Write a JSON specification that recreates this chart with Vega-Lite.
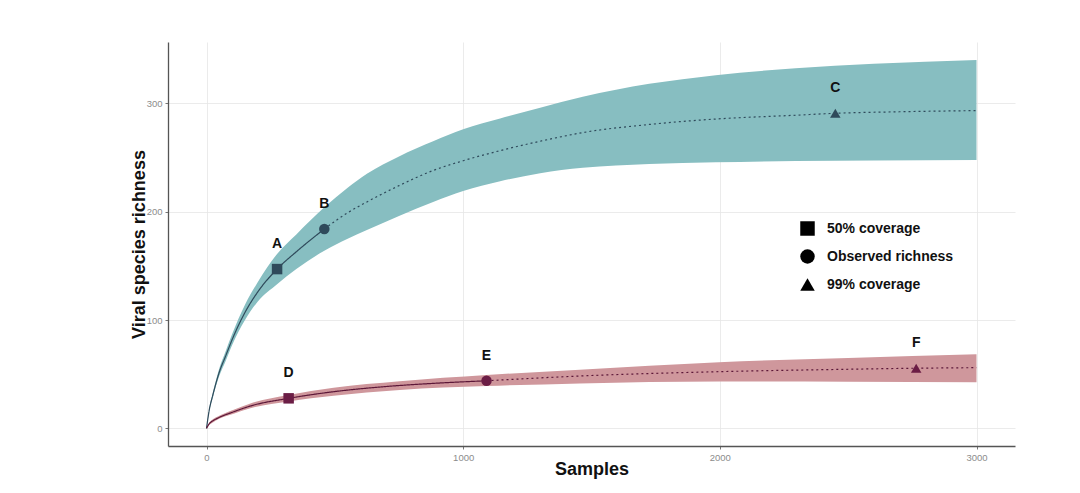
{
  "$schema": "https://vega.github.io/schema/vega-lite/v6.json",
  "width": 847,
  "height": 404,
  "autosize": {"type": "none"},
  "padding": {"left": 168, "top": 42, "right": 65, "bottom": 47},
  "background": "white",
  "config": {
    "view": {"stroke": null},
    "font": "Liberation Sans",
    "axis": {
      "domainColor": "#555555",
      "domainWidth": 1.3,
      "tickColor": "#777777",
      "tickSize": 3,
      "labelColor": "#8c8c8c",
      "labelFontSize": 9.5,
      "labelFont": "Liberation Sans",
      "titleFont": "Liberation Sans",
      "titleFontSize": 18,
      "titleFontWeight": "bold",
      "titleColor": "#111111",
      "gridColor": "#e6e6e6",
      "gridWidth": 0.8
    },
    "axisX": {"labelPadding": 3, "titlePadding": -1},
    "axisY": {"labelPadding": 3, "titlePadding": -2}
  },
  "datasets": {
    "band": [
      {"series": "S1", "x": 0, "lo": 0, "hi": 0},
      {"series": "S1", "x": 10, "lo": 15, "hi": 17},
      {"series": "S1", "x": 25, "lo": 29, "hi": 33},
      {"series": "S1", "x": 50, "lo": 48.5, "hi": 55.5},
      {"series": "S1", "x": 75, "lo": 62.5, "hi": 71.5},
      {"series": "S1", "x": 100, "lo": 77, "hi": 87},
      {"series": "S1", "x": 150, "lo": 100, "hi": 114},
      {"series": "S1", "x": 200, "lo": 117, "hi": 135},
      {"series": "S1", "x": 275, "lo": 133, "hi": 161},
      {"series": "S1", "x": 350, "lo": 147, "hi": 179},
      {"series": "S1", "x": 459, "lo": 164, "hi": 204},
      {"series": "S1", "x": 550, "lo": 175, "hi": 222},
      {"series": "S1", "x": 625, "lo": 183, "hi": 235},
      {"series": "S1", "x": 750, "lo": 196, "hi": 251},
      {"series": "S1", "x": 883, "lo": 209, "hi": 265},
      {"series": "S1", "x": 1000, "lo": 219, "hi": 276},
      {"series": "S1", "x": 1144, "lo": 228, "hi": 286},
      {"series": "S1", "x": 1300, "lo": 235.5, "hi": 296},
      {"series": "S1", "x": 1466, "lo": 240.5, "hi": 306},
      {"series": "S1", "x": 1725, "lo": 244, "hi": 318},
      {"series": "S1", "x": 1984, "lo": 245.5, "hi": 326},
      {"series": "S1", "x": 2295, "lo": 246.7, "hi": 332.3},
      {"series": "S1", "x": 2600, "lo": 247.3, "hi": 336.5},
      {"series": "S1", "x": 3000, "lo": 247.7, "hi": 340},
      {"series": "S2", "x": 0, "lo": 0, "hi": 0},
      {"series": "S2", "x": 10, "lo": 3, "hi": 5},
      {"series": "S2", "x": 25, "lo": 5.5, "hi": 8.5},
      {"series": "S2", "x": 42, "lo": 8, "hi": 10.8},
      {"series": "S2", "x": 106, "lo": 13.5, "hi": 17.2},
      {"series": "S2", "x": 171, "lo": 18.5, "hi": 23},
      {"series": "S2", "x": 320, "lo": 24.8, "hi": 30.8},
      {"series": "S2", "x": 495, "lo": 30, "hi": 37.5},
      {"series": "S2", "x": 753, "lo": 35.4, "hi": 43.5},
      {"series": "S2", "x": 1091, "lo": 39, "hi": 49.2},
      {"series": "S2", "x": 1454, "lo": 41.5, "hi": 54},
      {"series": "S2", "x": 1997, "lo": 43.3, "hi": 61},
      {"series": "S2", "x": 2500, "lo": 43, "hi": 65},
      {"series": "S2", "x": 3000, "lo": 42.5, "hi": 68.3}
    ],
    "line": [
      {"series": "S1", "part": "rarefaction", "x": 0, "y": 0},
      {"series": "S1", "part": "rarefaction", "x": 10, "y": 16},
      {"series": "S1", "part": "rarefaction", "x": 25, "y": 31},
      {"series": "S1", "part": "rarefaction", "x": 50, "y": 52},
      {"series": "S1", "part": "rarefaction", "x": 75, "y": 67},
      {"series": "S1", "part": "rarefaction", "x": 100, "y": 82},
      {"series": "S1", "part": "rarefaction", "x": 150, "y": 107},
      {"series": "S1", "part": "rarefaction", "x": 200, "y": 126},
      {"series": "S1", "part": "rarefaction", "x": 275, "y": 147},
      {"series": "S1", "part": "rarefaction", "x": 350, "y": 163},
      {"series": "S1", "part": "rarefaction", "x": 459, "y": 184},
      {"series": "S1", "part": "extrapolation", "x": 459, "y": 184},
      {"series": "S1", "part": "extrapolation", "x": 550, "y": 199},
      {"series": "S1", "part": "extrapolation", "x": 625, "y": 209},
      {"series": "S1", "part": "extrapolation", "x": 750, "y": 224},
      {"series": "S1", "part": "extrapolation", "x": 883, "y": 238},
      {"series": "S1", "part": "extrapolation", "x": 1000, "y": 247},
      {"series": "S1", "part": "extrapolation", "x": 1130, "y": 255.5},
      {"series": "S1", "part": "extrapolation", "x": 1300, "y": 265},
      {"series": "S1", "part": "extrapolation", "x": 1466, "y": 273},
      {"series": "S1", "part": "extrapolation", "x": 1725, "y": 280.5},
      {"series": "S1", "part": "extrapolation", "x": 1984, "y": 285.5},
      {"series": "S1", "part": "extrapolation", "x": 2295, "y": 289},
      {"series": "S1", "part": "extrapolation", "x": 2450, "y": 290.8},
      {"series": "S1", "part": "extrapolation", "x": 2700, "y": 292.2},
      {"series": "S1", "part": "extrapolation", "x": 3000, "y": 293.3},
      {"series": "S2", "part": "rarefaction", "x": 0, "y": 0},
      {"series": "S2", "part": "rarefaction", "x": 10, "y": 4},
      {"series": "S2", "part": "rarefaction", "x": 25, "y": 7},
      {"series": "S2", "part": "rarefaction", "x": 42, "y": 9.2},
      {"series": "S2", "part": "rarefaction", "x": 106, "y": 15.3},
      {"series": "S2", "part": "rarefaction", "x": 171, "y": 20.6},
      {"series": "S2", "part": "rarefaction", "x": 320, "y": 27.7},
      {"series": "S2", "part": "rarefaction", "x": 495, "y": 33.8},
      {"series": "S2", "part": "rarefaction", "x": 689, "y": 38.4},
      {"series": "S2", "part": "rarefaction", "x": 883, "y": 41.5},
      {"series": "S2", "part": "rarefaction", "x": 1091, "y": 43.9},
      {"series": "S2", "part": "extrapolation", "x": 1091, "y": 43.9},
      {"series": "S2", "part": "extrapolation", "x": 1454, "y": 48.3},
      {"series": "S2", "part": "extrapolation", "x": 1997, "y": 52.3},
      {"series": "S2", "part": "extrapolation", "x": 2490, "y": 54.5},
      {"series": "S2", "part": "extrapolation", "x": 2765, "y": 55.5},
      {"series": "S2", "part": "extrapolation", "x": 3000, "y": 56}
    ],
    "pts": [
      {"series": "S1", "label": "A", "type": "50% coverage", "x": 275, "y": 147},
      {"series": "S1", "label": "B", "type": "Observed richness", "x": 459, "y": 184},
      {"series": "S1", "label": "C", "type": "99% coverage", "x": 2450, "y": 290.8},
      {"series": "S2", "label": "D", "type": "50% coverage", "x": 320, "y": 27.7},
      {"series": "S2", "label": "E", "type": "Observed richness", "x": 1091, "y": 43.9},
      {"series": "S2", "label": "F", "type": "99% coverage", "x": 2765, "y": 55.5}
    ]
  },
  "layer": [
    {
      "data": {"name": "band"},
      "mark": {"type": "area", "opacity": 1, "interpolate": "monotone"},
      "encoding": {
        "x": {"field": "x", "type": "quantitative", "title": "Samples",
              "scale": {"domain": [-150, 3150], "nice": false, "zero": false},
              "axis": {"values": [0, 1000, 2000, 3000], "grid": true, "format": "d"}},
        "y": {"field": "lo", "type": "quantitative", "title": "Viral species richness",
              "scale": {"domain": [-16.3, 356.6], "nice": false, "zero": false},
              "axis": {"values": [0, 100, 200, 300], "grid": true, "format": "d"}},
        "y2": {"field": "hi"},
        "color": {"field": "series", "type": "nominal",
                  "scale": {"domain": ["S1", "S2"], "range": ["#87bec1", "#cf979c"]},
                  "legend": null}
      }
    },
    {
      "data": {"name": "line"},
      "mark": {"type": "line", "strokeWidth": 1.2, "interpolate": "monotone"},
      "encoding": {
        "x": {"field": "x", "type": "quantitative", "title": "Samples"},
        "y": {"field": "y", "type": "quantitative", "title": "Viral species richness"},
        "stroke": {"field": "series", "type": "nominal",
                   "scale": {"domain": ["S1", "S2"], "range": ["#2f4a5b", "#5c1738"]},
                   "legend": null},
        "strokeDash": {"field": "part", "type": "nominal",
                       "scale": {"domain": ["rarefaction", "extrapolation"], "range": [[1, 0], [2, 3]]},
                       "legend": null}
      }
    },
    {
      "data": {"name": "pts"},
      "mark": {"type": "point", "filled": true, "opacity": 1, "size": 110, "strokeWidth": 0},
      "encoding": {
        "x": {"field": "x", "type": "quantitative", "title": "Samples"},
        "y": {"field": "y", "type": "quantitative", "title": "Viral species richness"},
        "fill": {"field": "series", "type": "nominal",
                 "scale": {"domain": ["S1", "S2"], "range": ["#2f4a5b", "#6b1d45"]},
                 "legend": null},
        "shape": {"field": "type", "type": "nominal",
                  "scale": {"domain": ["50% coverage", "Observed richness", "99% coverage"],
                            "range": ["square", "circle", "triangle-up"]},
                  "legend": {
                    "title": null,
                    "orient": "none",
                    "legendX": 632,
                    "legendY": 179,
                    "labelFont": "Liberation Sans",
                    "labelFontWeight": "bold",
                    "labelFontSize": 14,
                    "labelColor": "#111111",
                    "labelOffset": 12,
                    "symbolSize": 210,
                    "rowPadding": 13,
                    "symbolStrokeWidth": 0,
                    "encode": {"symbols": {"update": {"fill": {"value": "#000000"}, "opacity": {"value": 1}}}}
                  }}
      }
    },
    {
      "data": {"name": "pts"},
      "mark": {"type": "text", "font": "Liberation Sans", "fontWeight": "bold", "fontSize": 14, "dy": -25, "color": "#111111"},
      "encoding": {
        "x": {"field": "x", "type": "quantitative", "title": "Samples"},
        "y": {"field": "y", "type": "quantitative", "title": "Viral species richness"},
        "text": {"field": "label", "type": "nominal"}
      }
    }
  ]
}
